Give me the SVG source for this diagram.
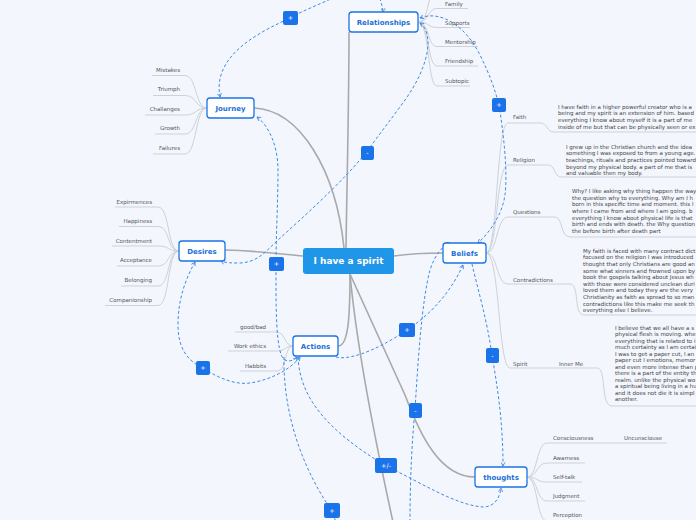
<svg xmlns="http://www.w3.org/2000/svg" width="696" height="520" viewBox="0 0 696 520">
<style>
.bg{fill:#f3f6fd}
.main{fill:none;stroke:#a9a9ab;stroke-width:1.6}
.sub{fill:none;stroke:#cdd1d9;stroke-width:1}
.dash{fill:none;stroke:#3f8ae3;stroke-width:1;stroke-dasharray:3 2.2}
.node rect{fill:#ffffff;stroke:#1a73e8;stroke-width:1.3}
.node text{font-family:"DejaVu Sans",Verdana,sans-serif;font-weight:bold;font-size:7px;fill:#1a6fd9;text-anchor:middle}
.lbl{font-family:"DejaVu Sans",Verdana,sans-serif;font-size:5.5px;fill:#555;white-space:pre}
.end{text-anchor:end}
.para{font-family:"DejaVu Sans",Verdana,sans-serif;font-size:5.5px;fill:#444;white-space:pre}
.tag rect{fill:#1a73e8}
.tag text{font-family:"DejaVu Sans",Verdana,sans-serif;font-size:6.5px;fill:#fff;text-anchor:middle}
</style>
<defs>
<marker id="arr" viewBox="0 0 6 6" refX="5" refY="3" markerWidth="5" markerHeight="5" markerUnits="userSpaceOnUse" orient="auto-start-reverse">
<path d="M0.5,0.5 L5,3 L0.5,5.5" fill="none" stroke="#3f8ae3" stroke-width="1"/>
</marker>
</defs>
<rect class="bg" x="0" y="0" width="696" height="520"/>

<g id="connectors">
<!-- main branches -->
<path class="main" d="M346,248 C347,180 349,100 349,32"/>
<path class="main" d="M344,248 C336,170 300,110 254,108"/>
<path class="main" d="M225,250 C260,251 280,254 303,256"/>
<path class="main" d="M350,274 C350,320 348,346 338,346"/>
<path class="main" d="M394,256 C415,253 430,253 443,253"/>
<path class="main" d="M350,274 L405,395 C420,435 440,477 475,477"/>
<path class="main" d="M350,274 C356,340 375,440 393,522"/>
<!-- relationships children -->
<path class="sub" d="M418,22 C430,22 427,-12 437,-12 L470,-12"/>
<path class="sub" d="M418,22 C430,22 427,8.5 437,8.5 L468,8.5"/>
<path class="sub" d="M418,22 C430,22 427,27.5 437,27.5 L470,27.5"/>
<path class="sub" d="M418,22 C430,22 427,46.5 437,46.5 L478,46.5"/>
<path class="sub" d="M418,22 C430,22 427,66 437,66 L478,66"/>
<path class="sub" d="M418,22 C430,22 427,86 437,86 L470,86"/>
<!-- journey children -->
<path class="sub" d="M207,108 C195,108 197,75.5 185,75.5 L152,75.5"/>
<path class="sub" d="M207,108 C195,108 197,95.5 185,95.5 L153,95.5"/>
<path class="sub" d="M207,108 C195,108 197,115 185,115 L145,115"/>
<path class="sub" d="M207,108 C195,108 197,134 185,134 L155,134"/>
<path class="sub" d="M207,108 C195,108 197,154 185,154 L153,154"/>
<!-- desires children -->
<path class="sub" d="M179,251 C167,251 170,207 158,207 L115,207"/>
<path class="sub" d="M179,251 C167,251 170,226.5 158,226.5 L119,226.5"/>
<path class="sub" d="M179,251 C167,251 170,246 158,246 L112,246"/>
<path class="sub" d="M179,251 C167,251 170,266 158,266 L117,266"/>
<path class="sub" d="M179,251 C167,251 170,286 158,286 L121,286"/>
<path class="sub" d="M179,251 C167,251 170,305.5 158,305.5 L105,305.5"/>
<!-- actions children -->
<path class="sub" d="M293,346 C284,346 286,332 276,332 L235,332"/>
<path class="sub" d="M293,346 C285,346 286,351 277,351 L228,351"/>
<path class="sub" d="M293,346 C284,346 287,371 277,371 L240,371"/>
<!-- beliefs children -->
<path class="sub" d="M486,253 C498,253 496,123 508,123 L540,123 C548,123 546,132 554,132 L696,132"/>
<path class="sub" d="M486,253 C498,253 496,165 508,165 L548,165 C556,165 553,177 562,177 L696,177"/>
<path class="sub" d="M486,253 C498,253 496,217 508,217 L555,217 C563,217 560,237 570,237 L696,237"/>
<path class="sub" d="M486,253 C498,253 496,284 508,284 L570,284 C580,284 573,315 584,315 L696,315"/>
<path class="sub" d="M486,253 C500,253 498,368 510,368 L597,368 C607,368 600,406 612,406 L696,406"/>
<!-- thoughts children -->
<path class="sub" d="M527,477 C538,477 536,443 547,443 L667,443"/>
<path class="sub" d="M527,477 C538,477 536,463 547,463 L585,463"/>
<path class="sub" d="M527,477 C538,477 536,482 547,482 L582,482"/>
<path class="sub" d="M527,477 C538,477 536,501 547,501 L585,501"/>
<path class="sub" d="M527,477 C538,477 536,521 547,521 L585,521"/>
<!-- dashed relations -->
<path class="dash" marker-end="url(#arr)" d="M335,-3 C318,5 300,12 290,18 C260,32 212,55 220,97"/>
<path class="dash" marker-end="url(#arr)" d="M380,-2 C381,4 383,7 383,12"/>
<path class="dash" marker-start="url(#arr)" marker-end="url(#arr)" d="M420,23 C434,33 430,65 405,100 C392,118 378,136 368,150 C345,180 300,220 278,240 C265,252 258,262 240,263 C232,263 226,263 221,261"/>
<path class="dash" marker-start="url(#arr)" marker-end="url(#arr)" d="M420,18 C440,10 465,25 480,55 C490,75 495,90 499,105 C503,130 508,170 505,195 C502,215 490,232 478,243"/>
<path class="dash" marker-start="url(#arr)" marker-end="url(#arr)" d="M257,117 C268,125 278,145 278,170 C278,200 276,235 276,264 C276,300 275,355 285,360 C290,362 295,360 297,357"/>
<path class="dash" marker-start="url(#arr)" marker-end="url(#arr)" d="M195,262 C185,280 178,300 178,325 C178,345 185,360 203,368 C218,378 235,385 250,383 C270,380 290,370 300,357"/>
<path class="dash" marker-end="url(#arr)" d="M336,357 C345,360 370,355 407,330 C425,318 448,298 463,265"/>
<path class="dash" marker-end="url(#arr)" d="M410,522 C410,480 412,440 415,410 C418,360 422,300 430,270 C435,255 442,246 450,243"/>
<path class="dash" marker-end="url(#arr)" d="M472,264 C478,290 487,320 492,355 C497,385 503,420 503,466"/>
<path class="dash" marker-end="url(#arr)" d="M298,357 C300,400 330,432 386,466 C420,482 455,505 483,507 C495,507 500,497 501,488"/>
<path class="dash" d="M284,357 C283,410 300,465 332,511 L337,525"/>
</g>

<g id="node-central"><rect x="303" y="248" width="91" height="26" rx="3" fill="#1f96e8"/><text x="348.5" y="264.3" font-family="DejaVu Sans,Verdana,sans-serif" font-weight="bold" font-size="9" fill="#fff" text-anchor="middle">I have a spirit</text></g>
<g id="node-relationships" class="node"><rect x="349" y="12" width="69" height="20" rx="3"/><text x="383.5" y="24.5">Relationships</text></g>
<g id="node-journey" class="node"><rect x="207" y="98" width="47" height="20" rx="3"/><text x="230.5" y="110.5">Journey</text></g>
<g id="node-desires" class="node"><rect x="179" y="241" width="46" height="20" rx="3"/><text x="202" y="253.5">Desires</text></g>
<g id="node-actions" class="node"><rect x="293" y="336" width="45" height="20" rx="3"/><text x="315.5" y="348.5">Actions</text></g>
<g id="node-beliefs" class="node"><rect x="443" y="243" width="43" height="20" rx="3"/><text x="464.5" y="255.5">Beliefs</text></g>
<g id="node-thoughts" class="node"><rect x="475" y="467" width="52" height="20" rx="3"/><text x="501" y="479.5">thoughts</text></g>

<g id="rel-children">
<text class="lbl" x="445" y="5.5">Family</text>
<text class="lbl" x="445" y="24.5">Supports</text>
<text class="lbl" x="445" y="43.5">Mentorship</text>
<text class="lbl" x="445" y="63">Friendship</text>
<text class="lbl" x="445" y="82.5">Subtopic</text>
</g>
<g id="journey-children">
<text class="lbl end" x="180" y="72">Mistakes</text>
<text class="lbl end" x="180" y="91">Triumph</text>
<text class="lbl end" x="180" y="111">Challanges</text>
<text class="lbl end" x="180" y="130">Growth</text>
<text class="lbl end" x="180" y="150">Failures</text>
</g>
<g id="desires-children">
<text class="lbl end" x="152" y="204">Expirmences</text>
<text class="lbl end" x="152" y="223">Happiness</text>
<text class="lbl end" x="152" y="243">Contentment</text>
<text class="lbl end" x="152" y="262">Acceptance</text>
<text class="lbl end" x="152" y="282">Belonging</text>
<text class="lbl end" x="152" y="301.5">Companionship</text>
</g>
<g id="actions-children">
<text class="lbl end" x="266" y="329">good/bad</text>
<text class="lbl end" x="266" y="348">Work ethics</text>
<text class="lbl end" x="266" y="367.5">Habbits</text>
</g>
<g id="beliefs-children">
<text class="lbl" x="513" y="119">Faith</text>
<text class="lbl" x="513" y="162">Religion</text>
<text class="lbl" x="513" y="214">Questions</text>
<text class="lbl" x="513" y="282">Contradictions</text>
<text class="lbl" x="513" y="366">Spirit</text>
<text class="lbl" x="559" y="366">Inner Me</text>
</g>
<g id="faith-text" class="para">
<text x="558" y="108.6">I have faith in a higher powerful creator who is a</text>
<text x="558" y="115.2">being and my spirit is an extension of him. based</text>
<text x="558" y="121.9">everything I know about myself  it is a part of me</text>
<text x="558" y="128.6">inside of me but that can be physically seen or ex</text>
</g>
<g id="religion-text" class="para">
<text x="566" y="148.5">I grew up in the  Christian church and the idea</text>
<text x="566" y="155.2">something I was exposed to from a young age.</text>
<text x="566" y="161.9">teachings, rituals and practices pointed toward</text>
<text x="566" y="168.6">beyond my physical body. a part of me that is</text>
<text x="566" y="175.3">and valuable then my body.</text>
</g>
<g id="questions-text" class="para">
<text x="572" y="192.8">Why? I like asking why thing happen the way</text>
<text x="572" y="199.5">the question why to everything. Why am  I h</text>
<text x="572" y="206.2">born in this specific time and moment. this l</text>
<text x="572" y="212.9">where I came from and where I am going. b</text>
<text x="572" y="219.6">everything I know about physical life is that</text>
<text x="572" y="226.3">birth and ends with death. the Why question</text>
<text x="572" y="233">the before birth after death part</text>
</g>
<g id="contradictions-text" class="para">
<text x="583" y="252.8">My faith is faced with many contract dict</text>
<text x="583" y="259.4">focused on the religion I was introduced</text>
<text x="583" y="266">thought that only Christians are good an</text>
<text x="583" y="272.6">some what sinners and frowned upon by</text>
<text x="583" y="279.2">book the gospels talking about Jesus wh</text>
<text x="583" y="285.8">with those were considered unclean duri</text>
<text x="583" y="292.4">loved them and today they are the very</text>
<text x="583" y="299">Christianity as faith as spread to so man</text>
<text x="583" y="305.6">contradictions like this make me seek th</text>
<text x="583" y="312.2">everything else I believe.</text>
</g>
<g id="spirit-text" class="para">
<text x="615" y="329.8">I believe that we all  have a s</text>
<text x="615" y="336.3">physical flesh is moving.  whe</text>
<text x="615" y="342.8">everything that is related to i</text>
<text x="615" y="349.3">much certainty as I am certai</text>
<text x="615" y="355.8">I was to get a paper cut, I an</text>
<text x="615" y="362.3">paper cut I emotions, memor</text>
<text x="615" y="368.8">and even more intense than p</text>
<text x="615" y="375.3">there is a part of the entity th</text>
<text x="615" y="381.8">realm. unlike the physical wo</text>
<text x="615" y="388.3">a spiritual being living in a hu</text>
<text x="615" y="394.8">and it does not die it is simpl</text>
<text x="615" y="401.3">another.</text>
</g>
<g id="thoughts-children">
<text class="lbl" x="553" y="440">Consciousness</text>
<text class="lbl" x="624" y="439.5">Uncunsciouse</text>
<text class="lbl" x="553" y="459.5">Awarness</text>
<text class="lbl" x="553" y="478.5">Self-talk</text>
<text class="lbl" x="553" y="497.5">Judgment</text>
<text class="lbl" x="553" y="517">Perception</text>
</g>

<g id="tags">
<g class="tag"><rect x="283" y="11" width="15" height="14" rx="2"/><text x="290.5" y="20.3">+</text></g>
<g class="tag"><rect x="361" y="146" width="13" height="14" rx="2"/><text x="367.5" y="155.3">-</text></g>
<g class="tag"><rect x="492" y="98" width="14" height="14" rx="2"/><text x="499" y="107.3">+</text></g>
<g class="tag"><rect x="269" y="257" width="15" height="14" rx="2"/><text x="276.5" y="266.3">+</text></g>
<g class="tag"><rect x="196" y="361" width="14" height="14" rx="2"/><text x="203" y="370.3">+</text></g>
<g class="tag"><rect x="399" y="323" width="16" height="14" rx="2"/><text x="407" y="332.3">+</text></g>
<g class="tag"><rect x="409" y="403" width="13" height="15" rx="2"/><text x="415.5" y="412.8">-</text></g>
<g class="tag"><rect x="486" y="348" width="13" height="15" rx="2"/><text x="492.5" y="357.8">-</text></g>
<g class="tag"><rect x="375" y="458" width="22" height="15" rx="2"/><text x="386" y="467.8">+/-</text></g>
<g class="tag"><rect x="324" y="503" width="16" height="15" rx="2"/><text x="332" y="512.8">+</text></g>
</g>
</svg>
